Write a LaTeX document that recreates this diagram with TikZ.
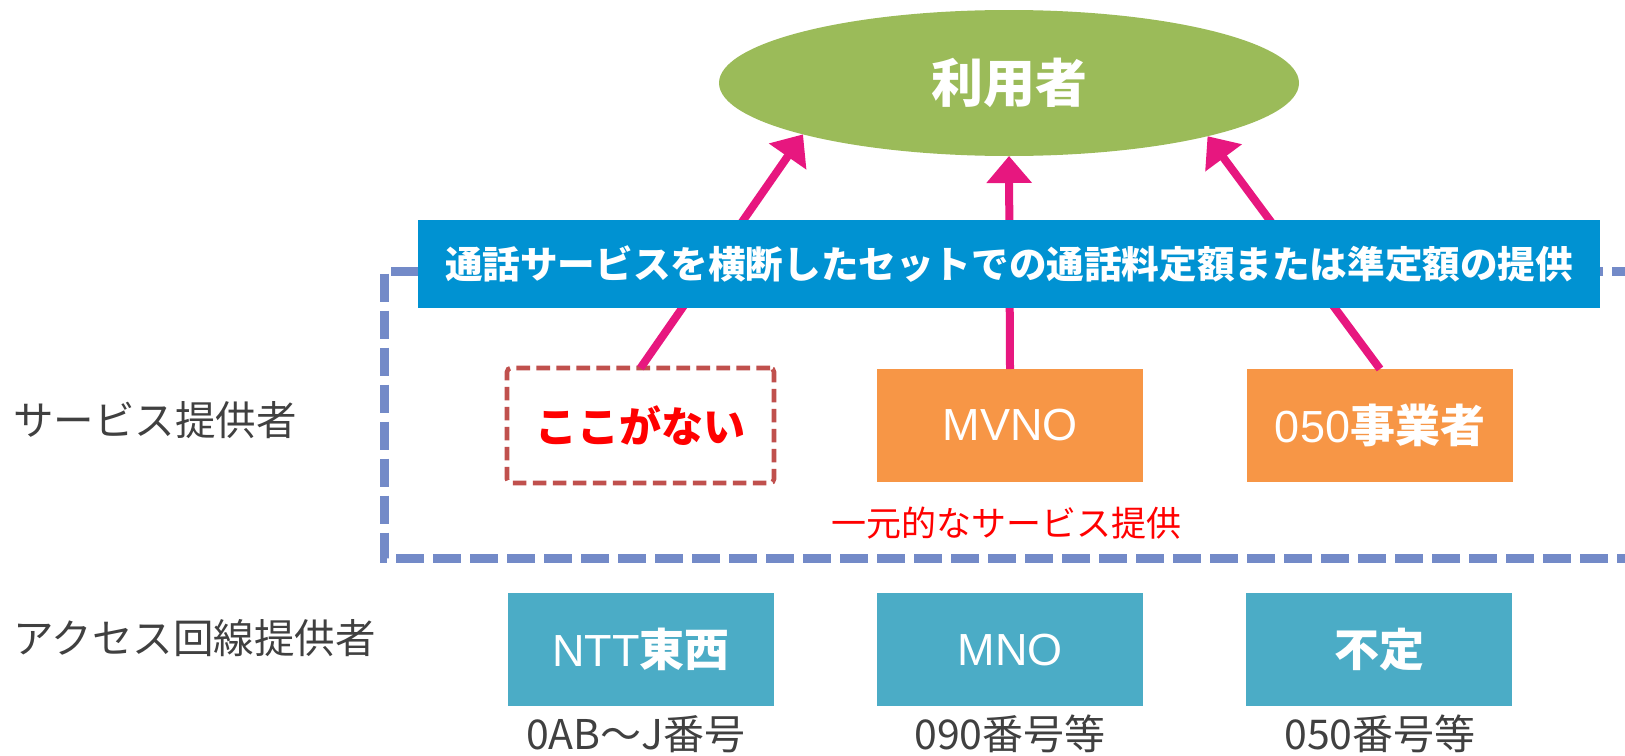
\documentclass[tikz,border=0pt]{standalone}
\usepackage{fontspec}
\setmainfont{Noto Sans CJK JP}
\newfontfamily\latinfont{Liberation Sans}
\usetikzlibrary{arrows.meta,shapes.geometric}
\definecolor{usergreen}{RGB}{155,187,89}
\definecolor{bannerblue}{RGB}{0,146,210}
\definecolor{boxorange}{RGB}{247,150,70}
\definecolor{boxteal}{RGB}{75,172,198}
\definecolor{dashred}{RGB}{192,80,77}
\definecolor{arrmag}{RGB}{231,23,127}
\definecolor{dashblue}{RGB}{115,138,200}
\definecolor{labelgray}{RGB}{64,64,64}
\definecolor{pureRed}{RGB}{255,0,0}
\tikzset{
  fsize/.style={font=\fontsize{#1pt}{#1pt}\selectfont},
  provbox/.style={rectangle, fill=boxorange, text=white, inner sep=0pt, outer sep=0pt,
    minimum width=133pt, minimum height=56.5pt, fsize=22.5},
  linebox/.style={rectangle, fill=boxteal, text=white, inner sep=0pt, outer sep=0pt,
    minimum width=133pt, minimum height=56.5pt, fsize=22.5},
  arr/.style={draw=arrmag, line width=4pt, -{Triangle[length=13.5pt,width=22pt]}},
  sidelabel/.style={anchor=west, inner sep=0pt, text=labelgray, fsize=20.25},
  numlabel/.style={anchor=base, inner sep=0pt, text=labelgray, fsize=20.5},
}
\begin{document}
\begin{tikzpicture}[x=0.5pt,y=-0.5pt]
\useasboundingbox (0,0) rectangle (1625,755);

% service provider group frame
\draw[dashblue, line width=4.5pt, dash pattern=on 14pt off 4.5pt]
  (1640,271) -- (384.5,271) -- (384.5,558) -- (1640,558);

% user ellipse
\node[ellipse, fill=usergreen, inner sep=0pt, outer sep=0pt,
  minimum width=290pt, minimum height=73pt, text=white,
  font=\fontsize{26pt}{26pt}\selectfont\bfseries] (user) at (1009,83) {利用者};

% provider boxes
\node[rectangle, draw=dashred, line width=2.3pt, dash pattern=on 6.8pt off 3.2pt,
  rounded corners=2pt, fill=white, inner sep=0pt, outer sep=0pt,
  minimum width=133.5pt, minimum height=57.5pt, text=pureRed,
  font=\fontsize{21pt}{21pt}\selectfont\bfseries] (nai) at (640.5,425.5) {ここがない};
\node[provbox] (mvno) at (1010,425.5) {{\latinfont MVNO}};
\node[provbox] (jigyo) at (1380,425.5) {{\latinfont 050}{\bfseries 事業者}};

% arrows to user
\draw[arr] (nai.north) -- (user.194.3);
\draw[arr] (mvno.north) -- (user.south);
\draw[arr] (jigyo.north) -- (user.345.8);

% banner
\node[rectangle, fill=bannerblue, inner sep=0pt, outer sep=0pt,
  minimum width=591pt, minimum height=44pt, text=white,
  font=\fontsize{18.8pt}{18.8pt}\selectfont\bfseries] (banner) at (1009,264)
  {通話サービスを横断したセットでの通話料定額または準定額の提供};

\node[inner sep=0pt, text=pureRed, fsize=17.5] (unified) at (1006,523) {一元的なサービス提供};

% access line boxes
\node[linebox] (ntt) at (641,649.5) {{\latinfont NTT}{\bfseries 東西}};
\node[linebox] (mno) at (1010,649.5) {{\latinfont MNO}};
\node[linebox] (futei) at (1379,649.5) {\bfseries 不定};

\node[numlabel] (n1) at (636,749) {0AB～J番号};
\node[numlabel] (n2) at (1010,749) {090番号等};
\node[numlabel] (n3) at (1380,749) {050番号等};

% row labels
\node[sidelabel] (svc) at (13,420) {サービス提供者};
\node[sidelabel] (acc) at (13,638) {アクセス回線提供者};
\end{tikzpicture}
\end{document}
